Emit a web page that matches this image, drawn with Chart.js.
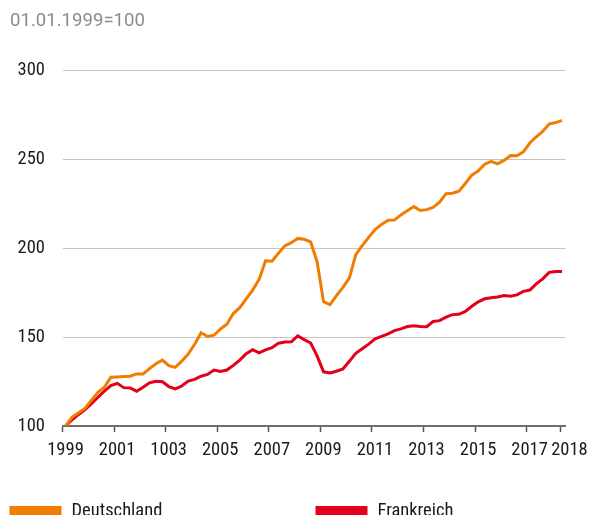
<!DOCTYPE html>
<html>
<head>
<meta charset="utf-8">
<script src="https://cdn.jsdelivr.net/npm/chart.js@4.4.1/dist/chart.umd.min.js"></script>
<style>
  html, body { margin: 0; padding: 0; background: #fff; }
  #wrap { width: 592px; height: 515px; overflow: hidden; }
</style>
</head>
<body>
<div id="wrap">
  <canvas id="chart" width="592" height="515"></canvas>
</div>
<script>
(function() {
    'use strict';

    // Quarterly index values, 01.01.1999 = 100 (1999 Q1 .. 2018 Q2)
    const deutschland = [
        100, 105, 107.5, 110, 114.5, 119, 121.8, 127.4,
        127.6, 127.8, 128, 129.3, 129.3, 132.3, 135, 137.1,
        134, 133, 136.5, 140.5, 146, 152.5, 150.4, 151.1,
        154.6, 157.3, 163.3, 166.6, 171.5, 176.5, 182.5, 193,
        192.8, 197.2, 201.4, 203.2, 205.6, 205.1, 203.6, 192.5,
        170, 168.3, 173.4, 178, 183.2, 196.5, 201.5, 206.2,
        210.6, 213.5, 215.8, 215.9, 218.8, 221.2, 223.5, 221.3,
        221.8, 223.1, 226, 230.8, 231, 232.2, 236.5, 241.2,
        243.6, 247.4, 249, 247.6, 249.5, 252.3, 252.1, 254.3,
        259.3, 262.8, 265.8, 270, 270.8, 272
    ];
    const frankreich = [
        100, 103.5, 106.5, 109.2, 112.5, 116.2, 119.6, 122.7,
        124, 121.6, 121.4, 119.6, 121.8, 124.3, 125.2, 124.9,
        122.2, 120.9, 122.5, 125.3, 126.2, 128, 129, 131.5,
        130.7, 131.5, 134.1, 137.1, 140.7, 143, 141.2, 142.9,
        144.1, 146.6, 147.3, 147.4, 150.7, 148.6, 146.7, 139.5,
        130.5, 129.8, 130.8, 132.1, 136.4, 140.9, 143.5, 146.1,
        149.1, 150.5, 151.9, 153.7, 154.7, 156, 156.4, 156,
        155.9, 158.8, 159.3, 161.3, 162.7, 162.9, 164.5, 167.4,
        169.9, 171.6, 172.2, 172.6, 173.4, 173, 173.8, 175.8,
        176.5, 180, 182.8, 186.5, 187, 187
    ];
    const tickYears = [1999, 2001, 2003, 2005, 2007, 2009, 2011, 2013, 2015, 2017, 2018.3];
    const tickLabels = ['1999', '2001', '1003', '2005', '2007', '2009', '2011', '2013', '2015', '2017', '2018'];
    const yTicks = [100, 150, 200, 250, 300];
    const seriesNames = ['Deutschland', 'Frankreich'];
    const baseNote = '01.01.1999=100';

    const narrow = "'Roboto Condensed', 'Liberation Sans Narrow', sans-serif";

    // quarter i sits in the middle of its quarter
    function toPoints(values) {
        return values.map((v, i) => ({ x: 1999 + (i + 0.5) / 4, y: v }));
    }

    // Title note and bottom legend
    const decor = {
        id: 'decor',
        afterDraw(chart, args, opts) {
            const ctx = chart.ctx;
            ctx.save();
            ctx.textBaseline = 'alphabetic';
            ctx.textAlign = 'left';
            ctx.fillStyle = '#8c8c8c';
            ctx.font = "18.6px Roboto, sans-serif";
            ctx.fillText(opts.note, 10, 26);

            ctx.font = '18.5px ' + narrow;
            chart.data.datasets.forEach((ds, i) => {
                const x = opts.itemX[i];
                ctx.fillStyle = ds.borderColor;
                ctx.fillRect(x, 506, 52, 13);
                ctx.fillStyle = '#1a1a1a';
                ctx.fillText(ds.label, x + 62, 516);
            });
            ctx.restore();
        }
    };

    new Chart(document.getElementById('chart'), {
        type: 'line',
        data: {
            datasets: [{
                label: seriesNames[0],
                data: toPoints(deutschland),
                borderColor: '#f07d00',
                borderWidth: 3,
                pointRadius: 0,
                tension: 0
            }, {
                label: seriesNames[1],
                data: toPoints(frankreich),
                borderColor: '#e2001a',
                borderWidth: 3,
                pointRadius: 0,
                tension: 0
            }]
        },
        options: {
            responsive: false,
            animation: false,
            layout: {
                padding: { top: 70.7, right: 25.5, left: 0, bottom: 0 }
            },
            plugins: {
                legend: { display: false },
                tooltip: { enabled: false },
                decor: { note: baseNote, itemX: [9.5, 315.5] }
            },
            scales: {
                x: {
                    type: 'linear',
                    min: 1999,
                    max: 2018.5,
                    afterFit: function(scale) { scale.height = 89; },
                    afterBuildTicks: function(scale) {
                        scale.ticks = tickYears.map(v => ({ value: v }));
                    },
                    grid: {
                        drawOnChartArea: false,
                        drawTicks: true,
                        tickLength: 6,
                        tickColor: '#555',
                        tickWidth: 1.5
                    },
                    border: { color: '#6e6e6e', width: 2 },
                    ticks: {
                        autoSkip: false,
                        maxRotation: 0,
                        padding: 7,
                        labelOffset: 3,
                        color: '#1a1a1a',
                        font: { family: narrow, size: 18.5 },
                        callback: function(value, index) {
                            // last label is nudged right so it clears 2017
                            const label = tickLabels[index];
                            return index === tickLabels.length - 1 ? '   ' + label : label;
                        }
                    }
                },
                y: {
                    min: 100,
                    max: 300,
                    afterFit: function(scale) { scale.width = 62.5; },
                    afterBuildTicks: function(scale) {
                        scale.ticks = yTicks.map(v => ({ value: v }));
                    },
                    grid: {
                        drawTicks: false,
                        color: ctx => ctx.tick && ctx.tick.value === 100 ? 'rgba(0,0,0,0)' : '#c4c4c4',
                        lineWidth: 1
                    },
                    border: { display: false },
                    ticks: {
                        padding: 17.5,
                        color: '#1a1a1a',
                        font: { family: narrow, size: 18.5 }
                    }
                }
            }
        },
        plugins: [decor]
    });

})();
</script>
</body>
</html>
